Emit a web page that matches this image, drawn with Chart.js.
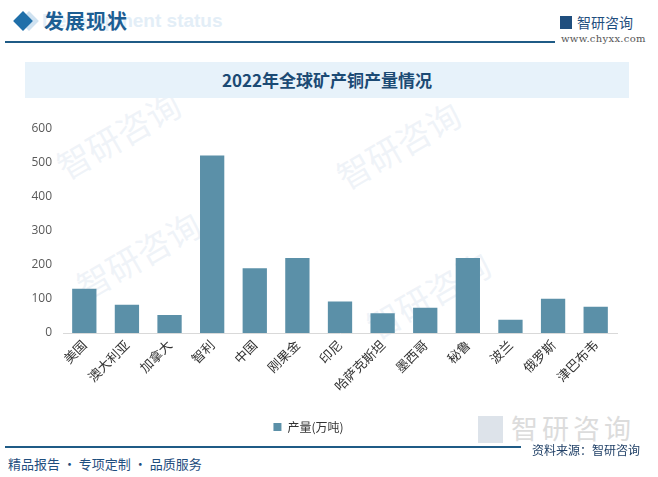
<!DOCTYPE html>
<html>
<head>
<meta charset="utf-8">
<script src="https://cdn.jsdelivr.net/npm/chart.js@4"></script>
<style>
  body { margin: 0; width: 658px; height: 477px; background: #fff; position: relative; overflow: hidden;
         font-family: "Noto Sans CJK SC", "Noto Sans", sans-serif; }
  .abs { position: absolute; }
  #wm { left: 42px; top: 10px; font: bold 19px Arial, "Liberation Sans", sans-serif; color: #e3eef7; }
  #diamond { left: 16px; top: 14px; width: 14px; height: 14px; background: #1f6fa9; transform: rotate(45deg); }
  #diamond2 { left: 22px; top: 14px; width: 14px; height: 14px; background: #cfe2f1; transform: rotate(45deg); }
  #head { left: 44px; top: 6px; font-size: 20px; font-weight: bold; color: #1d5e93; letter-spacing: 1px; }
  #topline { left: 5px; top: 41px; width: 550px; height: 2px; background: #1f5b86; }
  #logo { left: 560px; top: 12px; font-size: 14px; color: #1f4e7e; }
  #url { left: 561px; top: 33px; font: 10px "DejaVu Serif", serif; color: #555; letter-spacing: 0.3px; }
  #banner { left: 25px; top: 62px; width: 604px; height: 36px; background: #e7f2fa; }
  #title { left: 25px; top: 62px; width: 604px; line-height: 36px; text-align: center;
           font-size: 17px; font-weight: bold; color: #1b4a74; }
  #chartbox { left: 0; top: 110px; width: 658px; height: 333px; }
  #botline { left: 5px; top: 446px; width: 516px; height: 2px; background: #1f5b86; }
  #src { left: 532px; top: 441px; font-size: 12px; color: #1f3f66; }
  #slogan { left: 8px; top: 454px; font-size: 13px; color: #1f4e7e; }
  #wmlogo { left: 478px; top: 408px; font-size: 27px; color: #dcdcdc; letter-spacing: 4px; }
  .icon { display: inline-block; width: 12px; height: 13px; background: #1f4e7e; vertical-align: -1px; margin-right: 5px; }
  #wmlogo .icon { width: 25px; height: 27px; background: #dde3ea; vertical-align: -4px; margin-right: 8px; }
  .faint { color: rgba(210, 222, 235, 0.35); font-size: 34px; transform: rotate(-30deg); }
</style>
</head>
<body>
<div class="abs" id="wm">Development status</div>
<div class="abs" id="diamond2"></div>
<div class="abs" id="diamond"></div>
<div class="abs" id="head">发展现状</div>
<div class="abs" id="topline"></div>
<div class="abs" id="logo"><span class="icon"></span>智研咨询</div>
<div class="abs" id="url">www.chyxx.com</div>

<div class="abs faint" style="left:50px;top:110px;">智研咨询</div>
<div class="abs faint" style="left:330px;top:120px;">智研咨询</div>
<div class="abs faint" style="left:70px;top:230px;">智研咨询</div>
<div class="abs faint" style="left:360px;top:270px;">智研咨询</div>

<div class="abs" id="banner"></div>
<div class="abs" id="title">2022年全球矿产铜产量情况</div>

<div class="abs" id="wmlogo"><span class="icon"></span>智研咨询</div>

<div class="abs" id="chartbox"><canvas id="chart" width="658" height="333"></canvas></div>

<div class="abs" id="botline"></div>
<div class="abs" id="src">资料来源：智研咨询</div>
<div class="abs" id="slogan">精品报告 · 专项定制 · 品质服务</div>

<script>
const countries = ["美国", "澳大利亚", "加拿大", "智利", "中国", "刚果金", "印尼", "哈萨克斯坦", "墨西哥", "秘鲁", "波兰", "俄罗斯", "津巴布韦"];
const output = [130, 83, 53, 520, 190, 220, 92, 58, 74, 220, 39, 100, 77];
const seriesName = "产量(万吨)";
const barColor = "#5b90a8";

new Chart(document.getElementById('chart'), {
    type: 'bar',
    data: {
        labels: countries,
        datasets: [{
            label: seriesName,
            data: output,
            backgroundColor: barColor,
            categoryPercentage: 1,
            barPercentage: 0.57
        }]
    },
    options: {
        responsive: false,
        animation: false,
        layout: { padding: { left: 0, right: 41, top: 12, bottom: 0 } },
        plugins: {
            tooltip: { enabled: false },
            legend: {
                position: 'bottom',
                labels: {
                    boxWidth: 8, boxHeight: 8, padding: 10,
                    color: '#333',
                    font: { size: 12, family: '"Noto Sans CJK SC", sans-serif' }
                }
            }
        },
        scales: {
            x: {
                grid: { display: false, drawTicks: false },
                border: { color: '#d9d9d9', width: 1 },
                ticks: {
                    minRotation: 45, maxRotation: 45, padding: 4,
                    color: '#333',
                    font: { size: 13, family: '"Noto Sans CJK SC", sans-serif' }
                },
                afterFit: scale => { scale.height = 78; }
            },
            y: {
                min: 0, max: 600,
                grid: { display: false, drawTicks: false },
                border: { display: false },
                ticks: {
                    stepSize: 100, padding: 11,
                    color: '#595959',
                    font: { size: 12, family: '"Open Sans", sans-serif' }
                },
                afterFit: scale => { scale.width = 63; }
            }
        }
    }
});
</script>
</body>
</html>
